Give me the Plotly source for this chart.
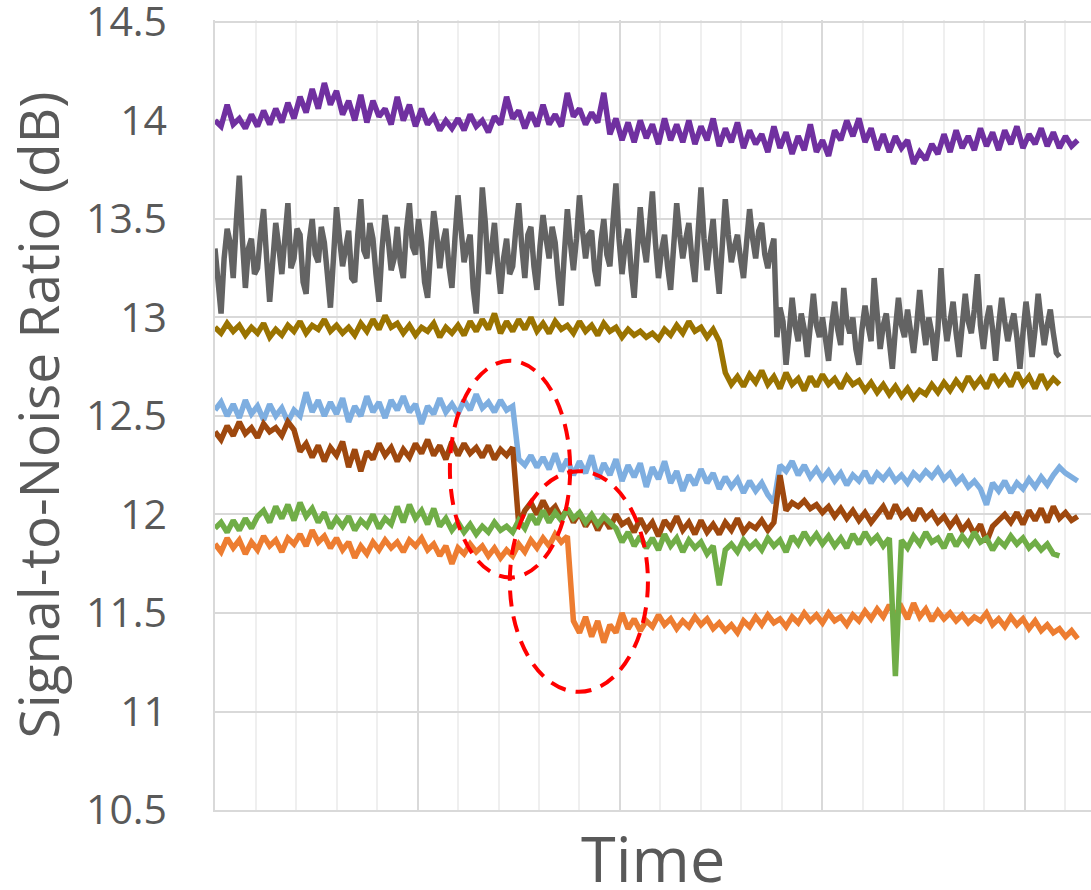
import numpy as np
import plotly.graph_objects as go

# ---- data ----
DT = 0.15        # time step between samples (axis units; 1 unit = one minor grid cell)
GRAY_DT = 0.075  # the gray trace is sampled twice as densely

purple = [
    14.00, 13.97, 14.08, 13.98, 14.01, 13.96, 14.03, 13.97, 14.05, 13.98,
    14.06, 13.99, 14.09, 14.01, 14.12, 14.04, 14.16, 14.06, 14.19, 14.08,
    14.15, 14.03, 14.10, 14.00, 14.13, 13.99, 14.10, 14.02, 14.06, 13.98,
    14.12, 14.00, 14.08, 13.97, 14.06, 13.98, 14.02, 13.95, 14.00, 13.96,
    14.01, 13.95, 14.03, 13.97, 14.00, 13.94, 14.02, 13.98, 14.12, 14.01,
    14.05, 13.96, 14.04, 13.97, 14.08, 13.98, 14.03, 13.97, 14.14, 14.02,
    14.06, 13.98, 14.04, 13.99, 14.14, 13.93, 14.01, 13.90, 13.99, 13.89,
    14.00, 13.91, 13.98, 13.88, 14.01, 13.90, 13.98, 13.89, 14.00, 13.88,
    13.97, 13.90, 14.01, 13.87, 13.96, 13.89, 13.99, 13.86, 13.95, 13.88,
    13.93, 13.84, 13.97, 13.86, 13.94, 13.83, 13.92, 13.85, 13.98, 13.84,
    13.90, 13.82, 13.95, 13.90, 14.00, 13.92, 14.01, 13.89, 13.96, 13.85,
    13.93, 13.84, 13.92, 13.86, 13.90, 13.78, 13.84, 13.80, 13.88, 13.83,
    13.93, 13.84, 13.95, 13.86, 13.92, 13.85, 13.96, 13.87, 13.94, 13.85,
    13.95, 13.88, 13.97, 13.86, 13.93, 13.88, 13.96, 13.87, 13.94, 13.86,
    13.92, 13.87, 13.90,
]

gray = [
    13.35, 13.20, 13.02, 13.30, 13.45, 13.38, 13.20, 13.48, 13.72, 13.40,
    13.15, 13.35, 13.40, 13.22, 13.25, 13.42, 13.55, 13.30, 13.08, 13.28,
    13.48, 13.36, 13.22, 13.40, 13.58, 13.25, 13.30, 13.45, 13.42, 13.18,
    13.12, 13.38, 13.50, 13.32, 13.28, 13.46, 13.38, 13.22, 13.05, 13.30,
    13.56, 13.40, 13.26, 13.35, 13.44, 13.20, 13.18, 13.42, 13.60, 13.34,
    13.30, 13.48, 13.40, 13.22, 13.08, 13.35, 13.52, 13.40, 13.24, 13.30,
    13.46, 13.28, 13.20, 13.44, 13.58, 13.36, 13.32, 13.50, 13.38, 13.18,
    13.10, 13.34, 13.54, 13.42, 13.25, 13.38, 13.45, 13.26, 13.15, 13.40,
    13.62, 13.45, 13.28, 13.36, 13.42, 13.15, 13.02, 13.30, 13.66, 13.48,
    13.22, 13.34, 13.48, 13.28, 13.12, 13.30, 13.40, 13.22, 13.26, 13.44,
    13.58, 13.36, 13.20, 13.42, 13.46, 13.26, 13.14, 13.36, 13.52, 13.40,
    13.30, 13.46, 13.38, 13.20, 13.06, 13.32, 13.55, 13.38, 13.24, 13.40,
    13.62, 13.44, 13.30, 13.42, 13.44, 13.24, 13.16, 13.38, 13.50, 13.32,
    13.26, 13.48, 13.68, 13.40, 13.22, 13.36, 13.45, 13.24, 13.10, 13.34,
    13.56, 13.38, 13.28, 13.46, 13.64, 13.38, 13.20, 13.34, 13.42, 13.26,
    13.14, 13.36, 13.58, 13.42, 13.30, 13.40, 13.48, 13.30, 13.18, 13.42,
    13.66, 13.40, 13.24, 13.38, 13.50, 13.28, 13.12, 13.36, 13.60, 13.42,
    13.28, 13.36, 13.42, 13.30, 13.20, 13.38, 13.55, 13.40, 13.30, 13.44,
    13.48, 13.32, 13.25, 13.34, 13.40,
    12.90, 13.05, 12.98, 12.76, 12.92, 13.10, 12.96, 12.88, 13.02, 12.94,
    12.80, 12.98, 13.12, 12.96, 12.90, 13.00, 12.86, 12.78, 12.96, 13.08,
    12.94, 12.86, 13.15, 12.98, 12.92, 13.00, 12.84, 12.76, 12.94, 13.06,
    12.96, 12.88, 13.20, 12.98, 12.84, 12.96, 13.02, 12.88, 12.74, 12.94,
    13.10, 12.96, 12.90, 13.04, 12.94, 12.82, 12.96, 13.14, 12.98, 12.86,
    13.00, 12.92, 12.78, 12.94, 13.25, 13.00, 12.88, 12.98, 13.08, 12.92,
    12.80, 12.96, 13.12, 12.98, 12.92, 13.04, 13.22, 12.96, 12.84, 12.98,
    13.06, 12.94, 12.78, 12.96, 13.10, 12.98, 12.88, 12.96, 13.02, 12.90,
    12.74, 12.92, 13.08, 12.96, 12.80, 12.94, 13.12, 12.98, 12.86, 12.96,
    13.04, 12.92, 12.82, 12.80,
]

gold = [
    12.95, 12.92, 12.97, 12.93, 12.96, 12.91, 12.95, 12.92, 12.97, 12.90,
    12.94, 12.91, 12.96, 12.93, 12.98, 12.92, 12.96, 12.94, 12.99, 12.93,
    12.96, 12.92, 12.95, 12.91, 12.97, 12.93, 12.99, 12.94, 13.01, 12.95,
    12.97, 12.92, 12.96, 12.91, 12.95, 12.93, 12.97, 12.90, 12.95, 12.92,
    12.96, 12.91, 12.98, 12.93, 12.99, 12.94, 13.02, 12.92, 12.98, 12.93,
    12.99, 12.94, 13.00, 12.93, 12.97, 12.92, 12.98, 12.94, 12.96, 12.92,
    12.98, 12.93, 12.96, 12.91, 12.97, 12.93, 12.95, 12.90, 12.94, 12.91,
    12.93, 12.90, 12.92, 12.89, 12.94, 12.91, 12.96, 12.92, 12.98, 12.93,
    12.95, 12.90, 12.94, 12.88,
    12.72, 12.66, 12.70, 12.65, 12.71, 12.67,
    12.73, 12.66, 12.70, 12.64, 12.72, 12.66, 12.69, 12.63, 12.70, 12.65,
    12.71, 12.66, 12.69, 12.64, 12.70, 12.66, 12.68, 12.63, 12.67, 12.62,
    12.66, 12.61, 12.65, 12.60, 12.64, 12.59, 12.63, 12.61, 12.66, 12.62,
    12.67, 12.63, 12.68, 12.64, 12.70, 12.65, 12.69, 12.64, 12.71, 12.66,
    12.70, 12.65, 12.72, 12.66, 12.70, 12.64, 12.71, 12.65, 12.69, 12.66,
]

light_blue = [
    12.53, 12.57, 12.50, 12.56, 12.49, 12.58, 12.51, 12.55, 12.48, 12.56,
    12.50, 12.54, 12.47, 12.53, 12.50, 12.62, 12.52, 12.58, 12.50, 12.57,
    12.51, 12.59, 12.47, 12.55, 12.50, 12.60, 12.52, 12.57, 12.49, 12.58,
    12.53, 12.60, 12.52, 12.56, 12.46, 12.55, 12.51, 12.59, 12.52, 12.56,
    12.51, 12.58, 12.53, 12.61, 12.54, 12.57, 12.52, 12.58, 12.53, 12.55,
    12.28, 12.25, 12.30, 12.24, 12.29, 12.23, 12.31, 12.22, 12.28, 12.20,
    12.27, 12.21, 12.30, 12.18, 12.26, 12.20, 12.28, 12.17, 12.25, 12.19,
    12.26, 12.14, 12.24, 12.18, 12.27, 12.16, 12.22, 12.12, 12.20, 12.15,
    12.23, 12.16, 12.21, 12.13, 12.19, 12.14, 12.18, 12.11, 12.17, 12.12,
    12.16, 12.10, 12.06, 12.25, 12.22, 12.27, 12.20, 12.25, 12.19, 12.23,
    12.18, 12.22, 12.17, 12.21, 12.15, 12.20, 12.17, 12.22, 12.16, 12.21,
    12.18, 12.22, 12.17, 12.20, 12.16, 12.21, 12.18, 12.22, 12.19, 12.23,
    12.18, 12.21, 12.16, 12.19, 12.14, 12.17, 12.13, 12.05, 12.16, 12.12,
    12.17, 12.11, 12.16, 12.13, 12.18, 12.14, 12.19, 12.15, 12.20, 12.24,
    12.21, 12.19, 12.17,
]

brown = [
    12.42, 12.38, 12.45, 12.40, 12.47, 12.41, 12.44, 12.39, 12.46, 12.42,
    12.44, 12.40, 12.47, 12.43, 12.32, 12.36, 12.29, 12.35, 12.27, 12.34,
    12.30, 12.37, 12.24, 12.33, 12.22, 12.32, 12.28, 12.36, 12.30, 12.34,
    12.27, 12.33, 12.29, 12.36, 12.31, 12.38, 12.30, 12.35, 12.28, 12.37,
    12.30, 12.36, 12.31, 12.34, 12.29, 12.35, 12.28, 12.33, 12.30, 12.34,
    11.95, 12.02, 12.06, 12.00, 12.07, 12.01, 12.04, 11.98, 12.03, 11.96,
    12.01, 11.94, 11.99, 11.92, 11.98, 11.93, 12.00, 11.95, 11.97, 11.91,
    11.98, 11.92, 11.96, 11.89, 11.97, 11.93, 11.99, 11.92, 11.96, 11.90,
    11.97, 11.91, 11.95, 11.90, 11.96, 11.92, 11.98, 11.91, 11.95, 11.93,
    11.97, 11.92, 11.96, 12.20, 12.02, 12.06, 12.04, 12.07, 12.03, 12.05,
    12.01, 12.04, 11.99, 12.03, 11.98, 12.02, 11.97, 12.01, 11.96, 12.00,
    12.04, 11.98, 12.05, 11.99, 12.02, 11.97, 12.03, 11.98, 12.01, 11.96,
    11.99, 11.94, 11.98, 11.92, 11.96, 11.90, 11.95, 11.86, 11.94, 11.97,
    12.00, 11.96, 12.01, 11.95, 12.02, 11.97, 12.03, 11.96, 12.04, 11.98,
    12.01, 11.97, 11.99,
]

green = [
    11.93, 11.96, 11.91, 11.97, 11.92, 11.98, 11.93, 11.99, 12.02, 11.96,
    12.04, 11.98, 12.05, 11.97, 12.06, 11.99, 12.03, 11.96, 12.01, 11.93,
    11.98, 11.94, 11.99, 11.92, 11.97, 11.94, 12.00, 11.93, 11.98, 11.95,
    12.04, 11.96, 12.05, 11.98, 12.02, 11.95, 12.03, 11.94, 11.98, 11.92,
    11.96, 11.91, 11.95, 11.90, 11.94, 11.91, 11.96, 11.92, 11.94, 11.91,
    11.97, 11.93, 12.00, 11.95, 12.02, 11.96, 12.01, 11.97, 12.03, 11.98,
    12.01, 11.96, 12.00, 11.95, 11.99, 11.96, 11.93, 11.86, 11.91, 11.84,
    11.89, 11.83, 11.88, 11.82, 11.90, 11.84, 11.88, 11.81, 11.87, 11.83,
    11.86, 11.80, 11.84, 11.64, 11.82, 11.85, 11.81, 11.87, 11.83, 11.86,
    11.82, 11.88, 11.84, 11.87, 11.81, 11.89, 11.85, 11.91, 11.86, 11.90,
    11.85, 11.89, 11.84, 11.88, 11.83, 11.90, 11.85, 11.91, 11.86, 11.89,
    11.84, 11.88, 11.18, 11.87, 11.83, 11.89, 11.85, 11.91, 11.86, 11.88,
    11.83, 11.90, 11.84, 11.89, 11.85, 11.91, 11.86, 11.88, 11.82, 11.87,
    11.84, 11.89, 11.85, 11.88, 11.83, 11.86, 11.82, 11.85, 11.80, 11.79,
]

orange = [
    11.85, 11.81, 11.88, 11.83, 11.87, 11.80, 11.86, 11.82, 11.89, 11.84,
    11.87, 11.81, 11.88, 11.85, 11.90, 11.84, 11.92, 11.86, 11.89, 11.83,
    11.88, 11.82, 11.86, 11.78, 11.84, 11.80, 11.86, 11.82, 11.87, 11.83,
    11.86, 11.81, 11.87, 11.84, 11.88, 11.82, 11.85, 11.79, 11.84, 11.75,
    11.83, 11.80, 11.85, 11.81, 11.84, 11.79, 11.83, 11.78, 11.82, 11.79,
    11.85, 11.81, 11.87, 11.83, 11.88, 11.84, 11.90, 11.86, 11.89, 11.46,
    11.40, 11.48, 11.38, 11.46, 11.35, 11.44, 11.40, 11.50, 11.42, 11.47,
    11.41, 11.46, 11.43, 11.49, 11.44, 11.47, 11.42, 11.46, 11.43, 11.48,
    11.44, 11.47, 11.42, 11.45, 11.41, 11.44, 11.40, 11.46, 11.43, 11.48,
    11.44, 11.49, 11.45, 11.47, 11.43, 11.48, 11.45, 11.50, 11.46, 11.49,
    11.45, 11.50, 11.46, 11.48, 11.44, 11.49, 11.46, 11.51, 11.47, 11.52,
    11.48, 11.54, 11.49, 11.53, 11.47, 11.55, 11.48, 11.52, 11.46, 11.51,
    11.47, 11.50, 11.46, 11.49, 11.45, 11.48, 11.46, 11.50, 11.44, 11.47,
    11.43, 11.48, 11.44, 11.47, 11.42, 11.46, 11.41, 11.44, 11.40, 11.42,
    11.38, 11.41, 11.37,
]

series = [
    ("Orange", orange, "#ed7d31", DT),
    ("Light blue", light_blue, "#7eaee0", DT),
    ("Brown", brown, "#9e480e", DT),
    ("Green", green, "#70ad47", DT),
    ("Gray", gray, "#636363", GRAY_DT),
    ("Gold", gold, "#9a7300", DT),
    ("Purple", purple, "#7030a0", DT),
]

Y_TICKS = [10.5, 11, 11.5, 12, 12.5, 13, 13.5, 14, 14.5]
Y_TICK_TEXT = ["10.5", "11", "11.5", "12", "12.5", "13", "13.5", "14", "14.5"]

FONT = "Open Sans"
TXT = "#595959"

fig = go.Figure()
for name, vals, color, dt in series:
    x = np.arange(len(vals)) * dt
    fig.add_trace(go.Scatter(x=x, y=vals, mode="lines", name=name,
                             line=dict(color=color, width=5.5),
                             hoverinfo="skip"))

# red dashed ellipses highlighting the step changes
ell_style = dict(color="#ff0000", width=4, dash="16px,10px")
fig.add_shape(type="circle", xref="x", yref="y",
              x0=5.80, x1=8.77, y0=11.68, y1=12.78, line=ell_style, layer="above")
fig.add_shape(type="circle", xref="x", yref="y",
              x0=7.28, x1=10.69, y0=11.10, y1=12.22, line=ell_style, layer="above")

# x-axis title placed as an annotation centred under the plot area
fig.add_annotation(text="Time", xref="paper", yref="paper", x=0.5, y=-0.06,
                   xanchor="center", yanchor="middle", showarrow=False,
                   font=dict(size=63, color=TXT, family=FONT))

fig.update_layout(
    width=1091, height=890,
    margin=dict(l=215, r=0, t=20, b=80),
    paper_bgcolor="white", plot_bgcolor="white",
    showlegend=False,
    font=dict(family=FONT, color=TXT),
    xaxis=dict(
        range=[0, 21.63], tick0=0, dtick=5,
        showticklabels=False, ticks="",
        showgrid=True, gridcolor="#d9d9d9", gridwidth=1.5,
        minor=dict(dtick=1, showgrid=True, gridcolor="#efefef", gridwidth=1.5),
        showline=True, linecolor="#d9d9d9", linewidth=1.5,
        zeroline=False, automargin=False,
    ),
    yaxis=dict(
        range=[10.5, 14.51], tickmode="array", tickvals=Y_TICKS, ticktext=Y_TICK_TEXT,
        tickfont=dict(size=41, color=TXT, family=FONT),
        ticks="", ticklabelstandoff=38, ticklabeloverflow="allow",
        showgrid=True, gridcolor="#d9d9d9", gridwidth=1.5,
        showline=True, linecolor="#d9d9d9", linewidth=1.5,
        zeroline=False, automargin=False,
        title=dict(text="Signal-to-Noise Ratio (dB)",
                   font=dict(size=55, color=TXT, family=FONT), standoff=14),
    ),
)

fig.write_html("out.html")
